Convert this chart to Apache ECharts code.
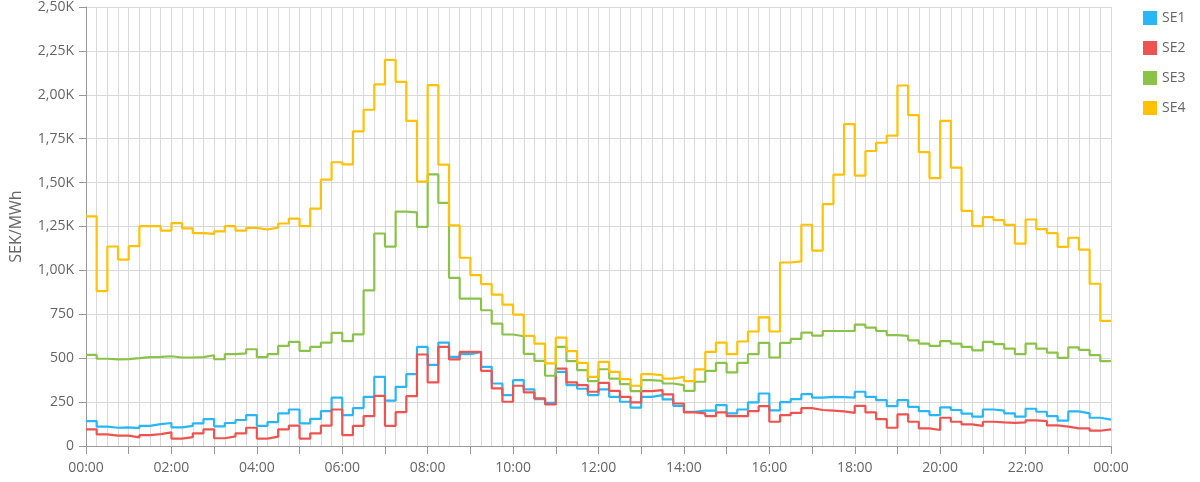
<!DOCTYPE html>
<html>
<head>
<meta charset="utf-8">
<script src="https://cdn.jsdelivr.net/npm/echarts@6/dist/echarts.min.js"></script>
<style>
html,body{margin:0;padding:0;background:#fff;}
#chart{width:1200px;height:482px;}
</style>
</head>
<body>
<div id="chart"></div>
<script>
// Quarter-hour slots (hours from midnight), 96 per day
var quarterHours = [];
for (var q = 0; q < 96; q++) { quarterHours.push(q / 4); }

var seriesNames = ['SE1', 'SE2', 'SE3', 'SE4'];

var se1 = [142,110,104,106,102,115,125,131,106,115,129,153,112,131,148,176,115,136,186,208,129,155,199,275,
  176,216,280,394,258,337,409,564,462,589,508,523,534,451,356,290,375,322,267,246,422,347,326,290,
  322,280,252,218,280,290,265,229,195,201,201,233,186,208,248,299,203,250,267,295,275,280,278,276,
  309,280,261,227,261,223,199,176,220,205,184,167,208,201,186,167,212,195,170,144,197,186,161,150];

var se2 = [95,66,59,59,49,62,68,78,42,51,72,95,44,55,72,104,42,53,95,116,42,72,116,208,
  62,115,170,286,115,193,284,521,362,564,493,536,536,428,328,252,343,305,271,237,441,362,347,309,
  360,314,280,248,313,318,294,242,191,186,170,191,170,170,199,227,138,176,189,216,205,201,197,189,
  229,191,153,104,180,138,100,91,161,138,123,115,138,134,132,134,146,142,117,110,100,100,87,95];

var se3 = [519,497,493,495,500,506,508,511,504,504,506,517,494,523,527,551,506,523,570,593,542,564,589,644,
  597,636,886,1210,1135,1335,1330,1248,1547,1384,958,839,839,773,697,635,625,525,485,400,564,483,432,369,
  437,384,352,313,375,371,356,347,314,366,428,473,419,473,523,587,504,587,610,646,629,655,655,655,
  691,674,655,631,627,602,583,570,597,583,564,545,593,580,555,523,583,555,532,502,562,547,517,483];

var se4 = [1308,882,1136,1061,1138,1252,1252,1227,1269,1239,1212,1208,1222,1252,1227,1242,1233,1244,1267,1295,1252,1352,1517,1616,
  1604,1792,1915,2059,2199,2074,1852,1506,2055,1602,1256,1072,973,922,862,805,748,627,583,470,617,540,473,394,
  479,422,381,343,409,403,384,394,369,436,536,589,523,595,652,733,652,1045,1051,1260,1113,1377,1545,1833,
  1540,1680,1727,1767,2053,1884,1674,1525,1852,1585,1339,1252,1303,1286,1259,1152,1290,1235,1212,1134,1186,1118,924,712];

var colors = ['#29B6F6', '#EF5350', '#8BC34A', '#FFC107'];

function toPoints(vals) {
  var pts = [];
  for (var i = 0; i < vals.length; i++) { pts.push([quarterHours[i], vals[i]]); }
  // close the last quarter-hour at 24:00
  pts.push([24, vals[vals.length - 1]]);
  return pts;
}

function pad(n) { return (n < 10 ? '0' : '') + n; }

var allData = [se1, se2, se3, se4];
var series = seriesNames.map(function (name, k) {
  return {
    name: name,
    type: 'line',
    step: 'end',
    showSymbol: false,
    symbol: 'none',
    data: toPoints(allData[k]),
    lineStyle: { width: 2.2, color: colors[k] },
    itemStyle: { color: colors[k] }
  };
});

var chart = echarts.init(document.getElementById('chart'), null, { renderer: 'canvas' });
chart.setOption({
  animation: false,
  color: colors,
  textStyle: { fontFamily: 'Open Sans' },
  grid: { left: 83, right: 89, top: 6, bottom: 36, containLabel: false },
  legend: {
    orient: 'vertical',
    left: 1138,
    top: 6,
    icon: 'rect',
    itemWidth: 14,
    itemHeight: 14,
    itemGap: 16,
    textStyle: { color: '#666', fontSize: 14, fontFamily: 'Open Sans' },
    data: seriesNames
  },
  xAxis: {
    type: 'value',
    min: 0,
    max: 24,
    interval: 1,
    axisLine: { show: true, lineStyle: { color: '#999', width: 1 } },
    axisTick: { show: true, length: 8, lineStyle: { color: '#999' } },
    axisLabel: {
      color: '#666',
      fontSize: 14,
      margin: 15,
      formatter: function (v) {
        if (v % 2 !== 0) return '';
        return pad(v % 24) + ':00';
      }
    },
    splitLine: { show: true, lineStyle: { color: '#d9d9d9', width: 1 } },
    minorTick: { show: false, splitNumber: 4 },
    minorSplitLine: { show: true, lineStyle: { color: '#d9d9d9', width: 1 } }
  },
  yAxis: {
    type: 'value',
    min: 0,
    max: 2500,
    interval: 250,
    name: 'SEK/MWh',
    nameLocation: 'middle',
    nameGap: 62,
    nameTextStyle: { color: '#666', fontSize: 16, fontFamily: 'Open Sans' },
    axisLine: { show: true, lineStyle: { color: '#999', width: 1 } },
    axisTick: { show: true, length: 7, lineStyle: { color: '#999' } },
    axisLabel: {
      color: '#666',
      fontSize: 14,
      margin: 12,
      formatter: function (v) {
        if (v >= 1000) return (v / 1000).toFixed(2).replace('.', ',') + 'K';
        return String(v);
      }
    },
    splitLine: { show: true, lineStyle: { color: '#d9d9d9', width: 1 } }
  },
  series: series
});
</script>
</body>
</html>
